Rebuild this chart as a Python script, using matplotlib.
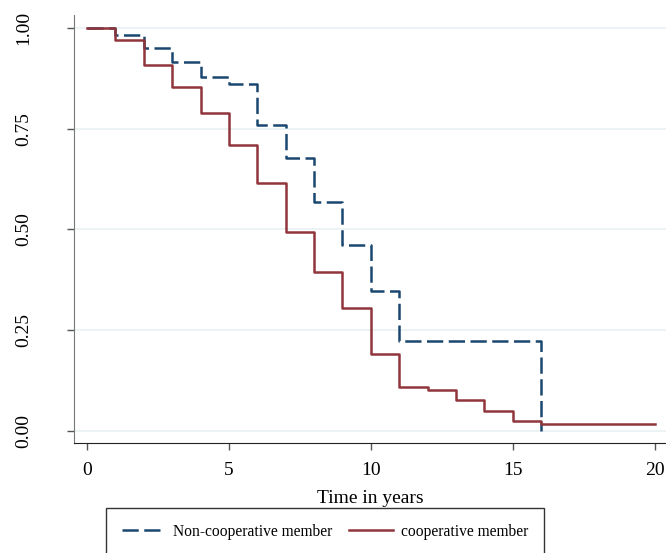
import matplotlib
matplotlib.use('Agg')
import matplotlib.pyplot as plt
import numpy as np

plt.rcParams['font.family'] = ['Liberation Serif', 'DejaVu Serif']

### (0) Data (Kaplan-Meier steps)
t_noncoop = [0, 1, 2, 3, 4, 5, 6, 7, 8, 9, 10, 11, 16]
s_noncoop = [1.0, 0.983, 0.950, 0.916, 0.877, 0.860, 0.759, 0.678, 0.569,
             0.462, 0.347, 0.222, 0.0]

t_coop = [0, 1, 2, 3, 4, 5, 6, 7, 8, 9, 10, 11, 12, 13, 14, 15, 16, 20]
s_coop = [1.0, 0.969, 0.908, 0.852, 0.788, 0.710, 0.614, 0.494, 0.393,
          0.306, 0.190, 0.109, 0.101, 0.076, 0.050, 0.024, 0.016, 0.016]

labels = ['Non-cooperative member', 'cooperative member']
x_ticks = [0, 5, 10, 15, 20]
y_ticks = [0.0, 0.25, 0.5, 0.75, 1.0]

c_blue = '#1a476f'
c_red = '#90353b'

### (1) Plot
fig = plt.figure(figsize=(6.66, 5.53), dpi=100)
ax1 = fig.add_axes([0.111, 0.199, 0.889, 0.774])

for y in y_ticks:
    ax1.axhline(y, color='#eaf2f3', lw=1.3, zorder=0)

ax1.plot(t_noncoop, s_noncoop, drawstyle='steps-post', color=c_blue, lw=1.8,
         dashes=(6.5, 2.2), label=labels[0])
ax1.plot(t_coop, s_coop, drawstyle='steps-post', color=c_red, lw=1.8,
         label=labels[1])

ax1.set_xlim(-0.46, 20.4)
ax1.set_ylim(-0.03, 1.032)
ax1.set_xticks(x_ticks)
ax1.set_yticks(y_ticks)
ax1.set_yticklabels(['{:.2f}'.format(v) for v in y_ticks], rotation=90, va='center')
ax1.tick_params(labelsize=14, direction='out', length=5, width=1, color='#555555')
ax1.tick_params(axis='x', pad=8.5)
ax1.tick_params(axis='y', pad=25)
ax1.spines['top'].set_visible(False)
ax1.spines['right'].set_visible(False)
ax1.spines['left'].set_color('#777777')
ax1.spines['bottom'].set_color('#222222')
ax1.set_xlabel('Time in years', fontsize=14, labelpad=8)

leg = fig.legend(loc='upper left', bbox_to_anchor=(106 / 666, 1 - 508 / 553),
                 borderaxespad=0, ncol=2, fontsize=11.2, frameon=True, fancybox=False,
                 edgecolor='black', handlelength=2.8, handletextpad=0.5,
                 borderpad=1.0, columnspacing=1.1)
leg.get_frame().set_linewidth(1.0)

fig.savefig('out.png', dpi=100)
